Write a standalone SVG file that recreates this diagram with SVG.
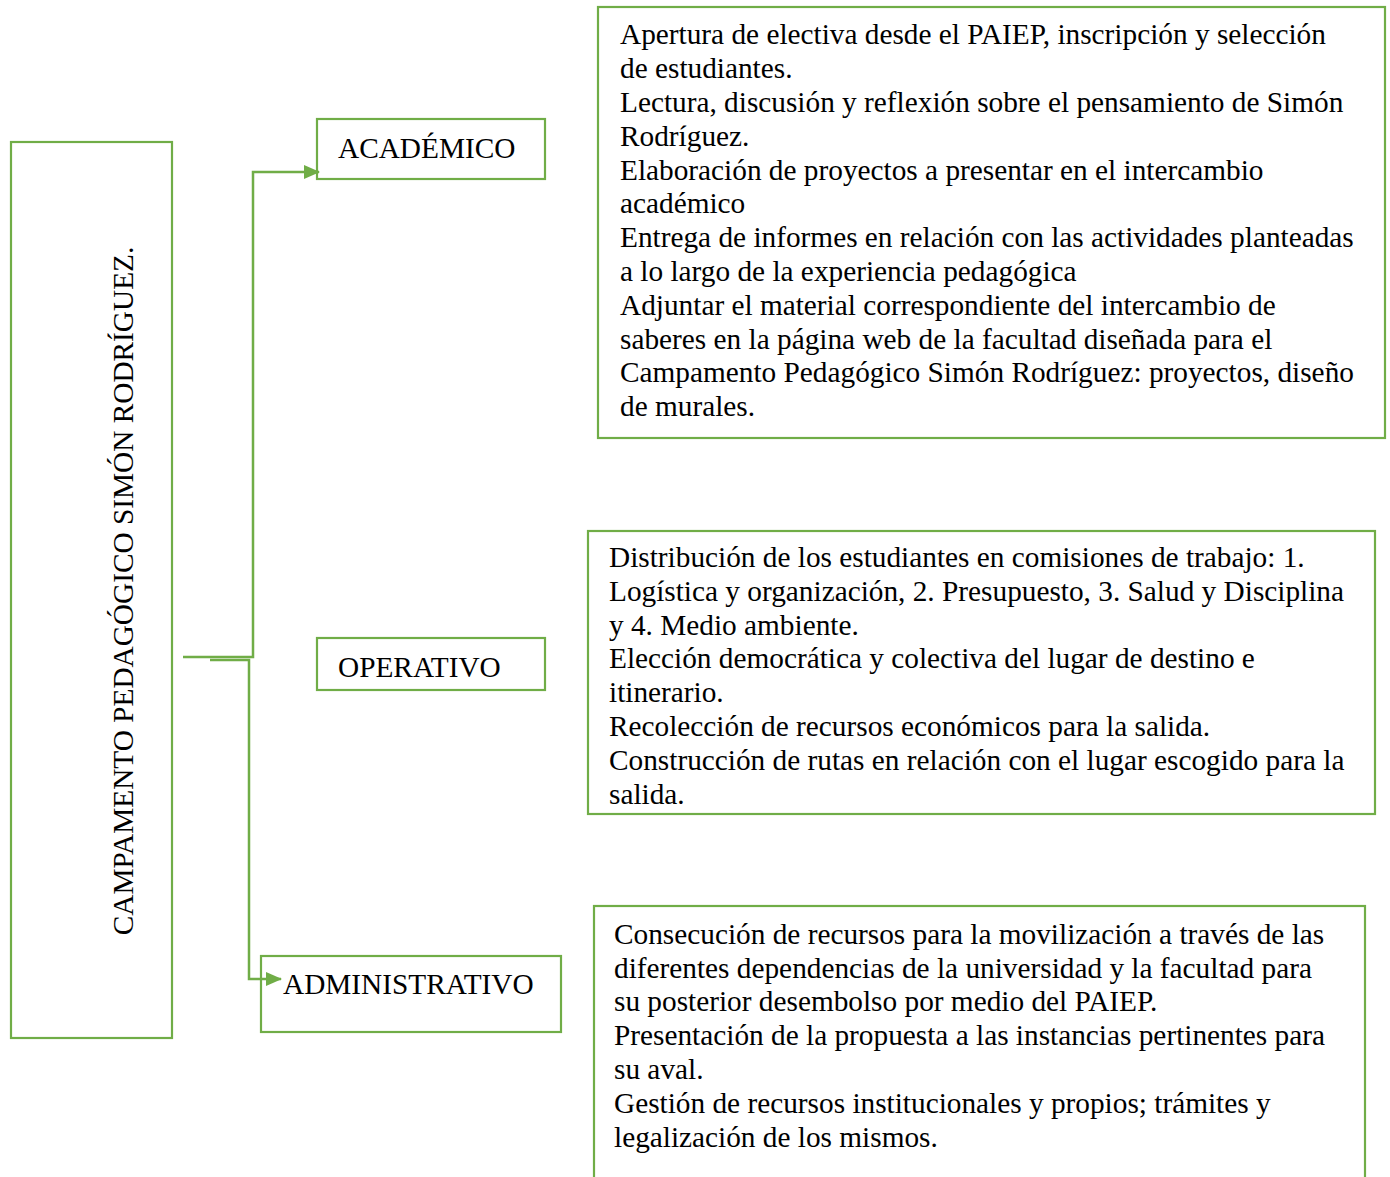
<svg xmlns="http://www.w3.org/2000/svg" width="1390" height="1177" viewBox="0 0 1390 1177">
<style>
.box{fill:#fff;stroke:#70AD47;stroke-width:2.2}
.t{font-family:"Liberation Serif","Times New Roman",serif;font-size:29.3px;fill:#000}
.c{fill:none;stroke:#70AD47;stroke-width:2.5}
</style>
<defs>
<marker id="arr" markerWidth="16" markerHeight="14" refX="15" refY="7" orient="auto" markerUnits="userSpaceOnUse">
<path d="M0,0 L16,7 L0,14 Z" fill="#70AD47"/>
</marker>
</defs>
<rect width="1390" height="1177" fill="#fff"/>
<g id="main">
<rect class="box" x="11" y="142" width="161" height="896"/>
<text class="t" transform="translate(133,591) rotate(-90)" text-anchor="middle">CAMPAMENTO PEDAGÓGICO SIMÓN RODRÍGUEZ.</text>
</g>
<g id="academico">
<rect class="box" x="317" y="119" width="228" height="60"/>
<text class="t" x="338" y="158">ACADÉMICO</text>
</g>
<g id="operativo">
<rect class="box" x="317" y="638" width="228" height="52"/>
<text class="t" x="338" y="677">OPERATIVO</text>
</g>
<g id="administrativo">
<rect class="box" x="261" y="956" width="300" height="76"/>
<text class="t" x="283" y="994">ADMINISTRATIVO</text>
</g>
<g id="academico-detalle">
<rect class="box" x="598" y="7" width="787" height="431"/>
<text class="t">
<tspan x="620" y="44">Apertura de electiva desde el PAIEP, inscripción y selección</tspan>
<tspan x="620" y="78">de estudiantes.</tspan>
<tspan x="620" y="112">Lectura, discusión y reflexión sobre el pensamiento de Simón</tspan>
<tspan x="620" y="146">Rodríguez.</tspan>
<tspan x="620" y="180">Elaboración de proyectos a presentar en el intercambio</tspan>
<tspan x="620" y="213">académico</tspan>
<tspan x="620" y="247">Entrega de informes en relación con las actividades planteadas</tspan>
<tspan x="620" y="281">a lo largo de la experiencia pedagógica</tspan>
<tspan x="620" y="315">Adjuntar el material correspondiente del intercambio de</tspan>
<tspan x="620" y="349">saberes en la página web de la facultad diseñada para el</tspan>
<tspan x="620" y="382">Campamento Pedagógico Simón Rodríguez: proyectos, diseño</tspan>
<tspan x="620" y="416">de murales.</tspan>
</text>
</g>
<g id="operativo-detalle">
<rect class="box" x="588" y="531" width="787" height="283"/>
<text class="t">
<tspan x="609" y="567">Distribución de los estudiantes en comisiones de trabajo: 1.</tspan>
<tspan x="609" y="601">Logística y organización, 2. Presupuesto, 3. Salud y Disciplina</tspan>
<tspan x="609" y="635">y 4. Medio ambiente.</tspan>
<tspan x="609" y="668">Elección democrática y colectiva del lugar de destino e</tspan>
<tspan x="609" y="702">itinerario.</tspan>
<tspan x="609" y="736">Recolección de recursos económicos para la salida.</tspan>
<tspan x="609" y="770">Construcción de rutas en relación con el lugar escogido para la</tspan>
<tspan x="609" y="804">salida.</tspan>
</text>
</g>
<g id="administrativo-detalle">
<rect class="box" x="594" y="906" width="771" height="290"/>
<text class="t">
<tspan x="614" y="944">Consecución de recursos para la movilización a través de las</tspan>
<tspan x="614" y="978">diferentes dependencias de la universidad y la facultad para</tspan>
<tspan x="614" y="1011">su posterior desembolso por medio del PAIEP.</tspan>
<tspan x="614" y="1045">Presentación de la propuesta a las instancias pertinentes para</tspan>
<tspan x="614" y="1079">su aval.</tspan>
<tspan x="614" y="1113">Gestión de recursos institucionales y propios; trámites y</tspan>
<tspan x="614" y="1147">legalización de los mismos.</tspan>
</text>
</g>
<g id="connectors">
<path class="c" d="M183,657 H253 V172 H319" marker-end="url(#arr)"/>
<path class="c" d="M210,660 H249 V979 H281" marker-end="url(#arr)"/>
</g>
</svg>
